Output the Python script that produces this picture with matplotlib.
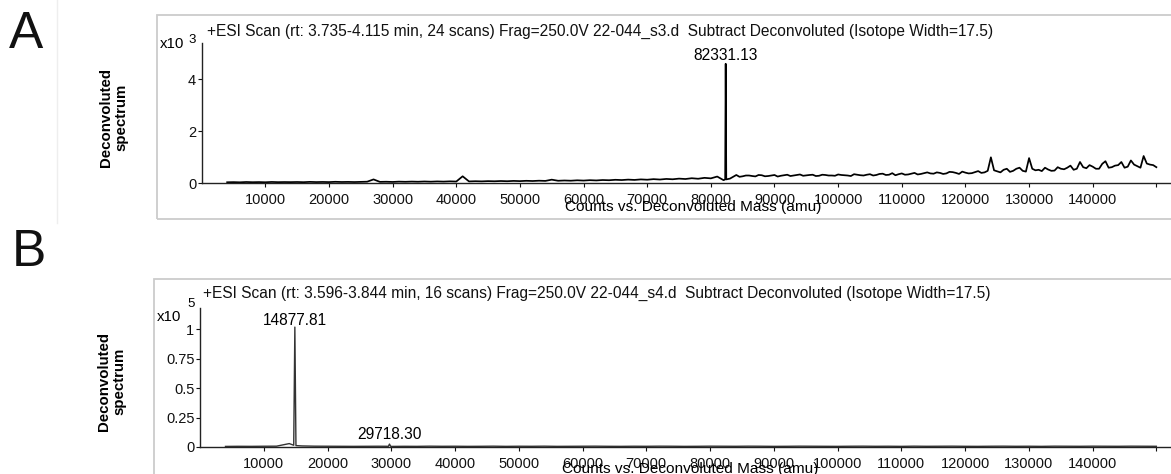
import matplotlib
matplotlib.use("Agg")
import matplotlib.pyplot as plt
import numpy as np
from matplotlib.patches import Rectangle
from matplotlib.lines import Line2D

plt.rcParams['font.family'] = ['Liberation Sans', 'DejaVu Sans']

# ---- panel A data (counts), baseline sampled every 1000 amu from 4000 to 150000
mass_a_start, mass_a_step = 4000, 1000
counts_a = [
    40, 45, 38, 50, 42, 47, 40, 52, 44, 48,
    45, 50, 43, 55, 47, 52, 46, 58, 50, 54,
    48, 56, 62, 150, 55, 60, 52, 64, 58, 66,
    60, 70, 62, 72, 65, 75, 68, 270, 72, 80,
    74, 84, 78, 88, 80, 92, 84, 96, 88, 100,
    92, 140, 98, 108, 100, 115, 105, 120, 110, 126,
    118, 135, 125, 142, 130, 150, 138, 160, 145, 168,
    155, 180, 165, 195, 175, 210, 190, 260, 120, 180,
    320, 270, 300, 265, 310, 280, 320, 290, 330, 300,
    340, 305, 330, 290, 320, 300, 340, 310, 280, 330,
    300, 350, 320, 370, 330, 310, 380, 340, 400, 360,
    420, 370, 400, 380, 430, 360, 410, 390, 470, 420,
    1000, 460, 520, 440, 560, 480, 970, 500, 470, 530,
    490, 560, 600, 520, 820, 580, 640, 560, 850, 620,
    700, 600, 880, 660, 1050, 720, 620,
]
# extra samples between the 1000-amu points from 84500 to 149500 (noisier region)
mass_a_mid_start = 84500
counts_a_mid = [
    250, 300, 280, 320, 270, 300, 260, 310, 280, 320,
    290, 320, 280, 330, 300, 290, 320, 300, 350, 310,
    330, 300, 360, 320, 390, 350, 330, 370, 340, 390,
    380, 420, 360, 440, 400, 450, 380, 430, 400, 480,
    500, 420, 560, 480, 600, 450, 560, 520, 600, 480,
    620, 540, 680, 560, 620, 700, 560, 750, 600, 680,
    820, 640, 720, 600, 760, 700,
]
peak_a_mass = [82250, 82331.13, 82420]
peak_a_counts = [150, 4600, 150]
peak_a_label = "82331.13"

# ---- panel B data (counts), baseline sampled every 2000 amu from 4000 to 150000
mass_b_start, mass_b_step = 4000, 2000
counts_b = [
    500, 600, 550, 650, 700, 2900, 900, 700, 650, 600,
    550, 600, 650, 500, 600, 550, 700, 600, 650, 550,
    600, 700, 550, 650, 600, 700, 550, 600, 650, 700,
    600, 550, 650, 600, 700, 650, 550, 600, 700, 650,
    600, 700, 650, 550, 600, 700, 650, 600, 550, 650,
    700, 600, 650, 550, 700, 600, 650, 700, 600, 550,
    650, 700, 600, 650, 550, 700, 650, 600, 700, 650,
    600, 700, 650, 600,
]
peak_b_mass = [14700, 14877.81, 15050, 29550, 29718.30, 29900]
peak_b_counts = [1500, 102000, 1200, 600, 2500, 600]
peak_b_labels = ["14877.81", "29718.30"]

title_a = ("+ESI Scan (rt: 3.735-4.115 min, 24 scans) Frag=250.0V 22-044_s3.d  "
           "Subtract Deconvoluted (Isotope Width=17.5)")
title_b = ("+ESI Scan (rt: 3.596-3.844 min, 16 scans) Frag=250.0V 22-044_s4.d  "
           "Subtract Deconvoluted (Isotope Width=17.5)")
xlabel = "Counts vs. Deconvoluted Mass (amu)"
ylabel = "Deconvoluted\nspectrum"
xticks = [10000 * i for i in range(1, 16)]
xtick_labels = [str(t) for t in xticks[:-1]] + [""]
yticks_a = [0, 2000, 4000]
yticks_a_labels = ["0", "2", "4"]
yticks_b = [0, 25000, 50000, 75000, 100000]
yticks_b_labels = ["0", "0.25", "0.5", "0.75", "1"]


def merge(parts):
    m, c = [], []
    for start, step, counts in parts:
        m += list(np.arange(len(counts)) * step + start)
        c += list(counts)
    order = np.argsort(m)
    return np.array(m)[order], np.array(c)[order]


W, H = 1171, 474
fig = plt.figure(figsize=(W / 100, H / 100), dpi=100)


def fx(px):
    return px / W


def fy(py):
    return 1 - py / H


def style_axes(ax, yticks, ylabels, ymax):
    ax.set_xlim(0, 152300)
    ax.set_ylim(0, ymax)
    ax.set_xticks(xticks)
    ax.set_xticklabels(xtick_labels)
    ax.set_yticks(yticks)
    ax.set_yticklabels(ylabels)
    for s in ("top", "right"):
        ax.spines[s].set_visible(False)
    for s in ("left", "bottom"):
        ax.spines[s].set_color("#222222")
        ax.spines[s].set_linewidth(1.0)
    ax.tick_params(axis="x", length=3, width=0.8, pad=4, labelsize=10.5, colors="#111111")
    ax.tick_params(axis="y", length=3, width=0.8, pad=1, labelsize=10.5, colors="#111111")
    ax.patch.set_alpha(0)


# outer frames
fig.patches.append(Rectangle((fx(157), fy(219)), 1.0, (219 - 15) / H, transform=fig.transFigure,
                             fill=False, edgecolor="#cccccc", lw=1.3))
fig.patches.append(Rectangle((fx(154), fy(490)), 1.0, (490 - 279.3) / H, transform=fig.transFigure,
                             fill=False, edgecolor="#cccccc", lw=1.3))
fig.lines.append(Line2D([fx(57), fx(57)], [fy(0), fy(223)], transform=fig.transFigure,
                        color="#eeeeee", lw=1))

# panel A
axA = fig.add_axes([fx(201.7), fy(183.3), 1 - fx(201.7), (183.3 - 43) / H])
mA, cA = merge([(mass_a_start, mass_a_step, counts_a),
                (mass_a_mid_start, mass_a_step, counts_a_mid)])
mA, cA = merge([(m, 0, [c]) for m, c in zip(list(mA) + peak_a_mass, list(cA) + peak_a_counts)])
axA.plot(mA, cA, color="black", lw=1.25)
style_axes(axA, yticks_a, yticks_a_labels, 5400)
axA.annotate(peak_a_label, xy=(peak_a_mass[1], peak_a_counts[1]), xytext=(0, 2.7),
             textcoords="offset points", ha="center", va="baseline", fontsize=11.2)

# panel B
axB = fig.add_axes([fx(200), fy(447), 1 - fx(200), (447 - 308.3) / H])
mB, cB = merge([(mass_b_start, mass_b_step, counts_b)])
mB, cB = merge([(m, 0, [c]) for m, c in zip(list(mB) + peak_b_mass, list(cB) + peak_b_counts)])
axB.plot(mB, cB, color="#333333", lw=1.0)
style_axes(axB, yticks_b, yticks_b_labels, 118000)
axB.annotate(peak_b_labels[0], xy=(peak_b_mass[1], peak_b_counts[1]), xytext=(0, 1.4),
             textcoords="offset points", ha="center", va="baseline", fontsize=11.2)
axB.annotate(peak_b_labels[1], xy=(peak_b_mass[4], peak_b_counts[4]), xytext=(0, 4),
             textcoords="offset points", ha="center", va="baseline", fontsize=11.2)

# titles and texts
fig.text(fx(206.7), fy(31.7), title_a, ha="left", va="center", fontsize=11.2, color="#111111")
fig.text(fx(203), fy(293.3), title_b, ha="left", va="center", fontsize=11.2, color="#111111")

fig.text(fx(160), fy(43.5), "x10", ha="left", va="center", fontsize=10.8)
fig.text(fx(188), fy(40), "3", ha="left", va="center", fontsize=9.5)
fig.text(fx(157), fy(316.7), "x10", ha="left", va="center", fontsize=10.8)
fig.text(fx(187), fy(304), "5", ha="left", va="center", fontsize=9.5)

fig.text(fx(114), fy(117.5), ylabel, rotation=90, ha="center", va="center",
         fontsize=10.8, fontweight="bold", linespacing=1.1)
fig.text(fx(112), fy(381.7), ylabel, rotation=90, ha="center", va="center",
         fontsize=10.8, fontweight="bold", linespacing=1.1)

fig.text(fx(693), fy(207.5), xlabel, ha="center", va="center", fontsize=11.1)
fig.text(fx(690), fy(469), xlabel, ha="center", va="center", fontsize=11.1)

fig.text(fx(26.5), fy(34), "A", ha="center", va="center", fontsize=37, color="#111111")
fig.text(fx(29), fy(252), "B", ha="center", va="center", fontsize=37, color="#111111")

fig.savefig("out.png", dpi=100)
